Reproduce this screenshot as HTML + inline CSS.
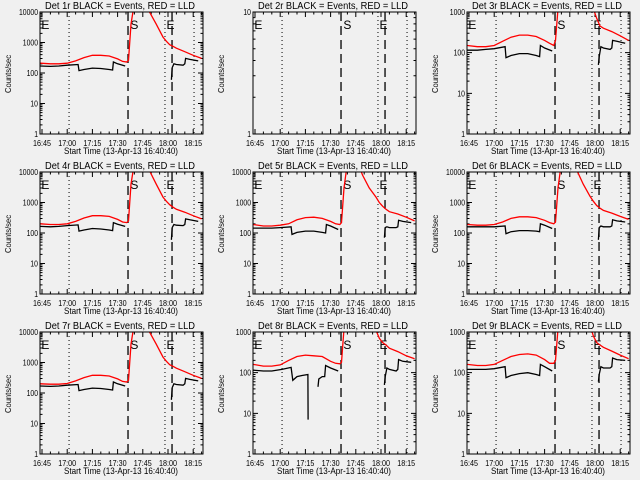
<!DOCTYPE html>
<html><head><meta charset="utf-8">
<style>
html,body{margin:0;padding:0;background:#f0f0f0;}
svg{display:block;font-family:"Liberation Sans",sans-serif;}
</style></head>
<body>
<svg id="chart" width="640" height="480" viewBox="0 0 640 480" xmlns="http://www.w3.org/2000/svg">
<rect x="0" y="0" width="640" height="480" fill="#f0f0f0"/>
</svg>
<script>
// shared time samples (minutes after 16:45)
const xTickLabels = ["16:45","17:00","17:15","17:30","17:45","18:00","18:15"];
const xTickMinutes = [0,15,30,45,60,75,90];
const dottedMinutes = [16.1,73.2,90.5];
const dashedMinutes = [51.2,77.4];
const redTimesA = [-1,5,10,15,20,25,30,35,40,45,48,50.5,51.5,53,55,58];
const redTimesB = [60,64,68,72,74,76,78,80,85,90,95];
const blackTimesA = [-1,5,10,15,21.5,22,25,30,35,40,42,42.5,45,49.5];
const blackTimesB = [77,77.5,78.5,80,84,85,85.5,88,93];
const blackTimesA8 = [-1,5,10,16,21.5,22.5,25,28,31.5,31.6,35,37.5,38,40,41.5,42,45,49.5];

// per-panel values
const titles = ["Det 1r","Det 2r","Det 3r","Det 4r","Det 5r","Det 6r","Det 7r","Det 8r","Det 9r"];
const decades = [4,1,3,4,4,4,4,3,3];
const red1A=[210,200,200,210,250,320,380,380,360,290,240,230,260,4000,20000,60000];
const red1B=[40000,10000,4000,1500,1100,850,750,650,500,380,300];
const black1A=[170,165,170,180,190,120,130,145,140,130,125,230,200,170];
const black1B=[60,150,200,190,180,200,300,280,250];
const red3A=[150,140,140,150,190,240,270,270,250,200,170,150,200,1200,5000,9000];
const red3B=[1e5,1e5,1e5,1e5,1200,700,450,400,330,260,200];
const black3A=[115,115,120,125,140,75,85,95,95,85,80,150,130,110];
const black3B=[50,80,140,130,120,130,200,190,170];
const red4A=[200,190,190,200,240,310,370,370,350,280,230,220,250,4000,20000,60000];
const red4B=[40000,11000,4000,1500,1100,850,700,600,480,370,290];
const black4A=[165,160,165,175,185,115,125,140,135,125,120,220,195,165];
const black4B=[60,150,190,180,175,190,290,270,240];
const red5A=[190,170,170,180,200,270,320,330,300,240,200,190,220,3000,20000,60000];
const red5B=[30000,8000,3000,1500,1000,750,600,500,420,330,250];
const black5A=[145,145,145,150,160,90,105,115,115,105,100,190,170,130];
const black5B=[70,150,160,150,150,160,260,240,220];
const red6A=[190,180,180,190,230,300,340,340,320,260,220,200,230,3000,20000,60000];
const red6B=[40000,12000,4000,1600,1100,800,650,550,450,350,280];
const black6A=[160,160,160,160,170,95,110,120,120,115,110,200,180,140];
const black6B=[60,150,170,160,160,170,270,250,230];
const red7A=[200,195,195,205,250,320,380,380,360,290,240,230,260,4000,20000,60000];
const red7B=[40000,10000,4000,1500,1100,850,750,650,500,380,300];
const black7A=[170,165,170,180,190,120,130,145,140,130,125,230,200,170];
const black7B=[60,150,200,190,180,200,300,280,250];
const red8A=[160,145,145,155,200,250,270,260,250,190,170,165,180,1200,5000,9000];
const red8B=[1e5,1e5,1e5,1100,700,550,480,400,330,260,220];
const black8A=[115,110,110,120,135,65,80,85,90,7,null,45,70,80,80,150,130,110];
const black8B=[50,80,130,120,110,120,210,190,180];
const red9A=[160,150,150,160,200,250,280,290,270,210,170,170,200,1200,5000,9000];
const red9B=[1e5,1e5,1e5,1500,800,550,480,420,340,270,220];
const black9A=[120,120,120,125,140,75,85,95,100,90,85,160,140,110];
const black9B=[60,90,140,130,130,140,230,210,200];

const panels = [
 {redA:red1A,redB:red1B,blackA:black1A,blackB:black1B,bTA:blackTimesA},
 null,
 {redA:red3A,redB:red3B,blackA:black3A,blackB:black3B,bTA:blackTimesA},
 {redA:red4A,redB:red4B,blackA:black4A,blackB:black4B,bTA:blackTimesA},
 {redA:red5A,redB:red5B,blackA:black5A,blackB:black5B,bTA:blackTimesA},
 {redA:red6A,redB:red6B,blackA:black6A,blackB:black6B,bTA:blackTimesA},
 {redA:red7A,redB:red7B,blackA:black7A,blackB:black7B,bTA:blackTimesA},
 {redA:red8A,redB:red8B,blackA:black8A,blackB:black8B,bTA:blackTimesA8},
 {redA:red9A,redB:red9B,blackA:black9A,blackB:black9B,bTA:blackTimesA}
];

const svg = document.getElementById('chart');
const NS = "http://www.w3.org/2000/svg";
function mk(tag, attrs, parent){
  const e=document.createElementNS(NS,tag);
  for(const k in attrs) e.setAttribute(k,attrs[k]);
  parent.appendChild(e); return e;
}
const L=40,R=203,T=12,B=134;
function xs(m){return 42+m*1.68;}

for(let i=0;i<9;i++){
  const col=i%3,row=Math.floor(i/3);
  const ox=col*213+(col==2?1:0), oy=row*160;
  const g=mk('g',{transform:`translate(${ox},${oy})`},svg);
  
  
  const nd=decades[i];
  const ys=v=>B-Math.log10(v)*(B-T)/nd;
  const tt=mk('text',{x:45,y:9,'font-size':10,textLength:150,lengthAdjust:'spacingAndGlyphs',fill:'#000'},g);
  tt.textContent=titles[i]+" BLACK = Events, RED = LLD";
  
  
  const yl=mk('text',{x:-19,y:0,'font-size':8.5,textLength:38,lengthAdjust:'spacingAndGlyphs',transform:`translate(11,74) rotate(-90)`},g);
  yl.textContent="Counts/sec";
  
  
  const xl=mk('text',{x:64,y:154,'font-size':9.5,textLength:114,lengthAdjust:'spacingAndGlyphs'},g);
  xl.textContent="Start Time (13-Apr-13 16:40:40)";
  
  
  let tk="";
  for(let d=0;d<=nd;d++){
    const y=ys(Math.pow(10,d));
    tk+=`M${L} ${y}h5M${R} ${y}h-5`;
    const s=String(Math.pow(10,d));
    const w=s.length*3.8;
    const lb=mk('text',{x:L-2-w,y:y+3,'font-size':8.5,textLength:w,lengthAdjust:'spacingAndGlyphs'},g);
    lb.textContent=s;
    
    
    if(d<nd) for(let k=2;k<10;k++){const yy=ys(k*Math.pow(10,d));tk+=`M${L} ${yy}h2.5M${R} ${yy}h-2.5`;}
  }
  xTickMinutes.forEach((m,j)=>{
    const x=xs(m);
    tk+=`M${x} ${B}v-5M${x} ${T}v5`;
    const lb=mk('text',{x:x-9,y:146,'font-size':8.5,textLength:18,lengthAdjust:'spacingAndGlyphs'},g);
    lb.textContent=xTickLabels[j];
    
    
  });
  for(let m=-0;m<=96;m+=5){if(m%15){const x=xs(m);tk+=`M${x} ${B}v-2.5M${x} ${T}v2.5`;}}
  const tp=mk('path',{d:tk,stroke:'#000','stroke-width':1,fill:'none'},g);
  
  
  dottedMinutes.forEach(m=>{const l=mk('line',{x1:xs(m),x2:xs(m),y1:T,y2:B,stroke:'#000','stroke-dasharray':'1 3'},g);
    });
  dashedMinutes.forEach(m=>{const l=mk('line',{x1:xs(m),x2:xs(m),y1:T,y2:B,stroke:'#000','stroke-width':1.3,'stroke-dasharray':'9 5'},g);
    });
  [["E",-1],["S",52],["E",73.5]].forEach(a=>{const t=mk('text',{x:xs(a[1])+1,y:29,'font-size':12},g);t.textContent=a[0];
    });
  const cp=mk('clipPath',{id:'c'+i},g);mk('rect',{x:L,y:T,width:R-L,height:B-T},cp);
  const p=panels[i];
  if(p){
    const line=(ts,vs,color,name)=>{
      let d="",pen=false;
      ts.forEach((t,j)=>{const v=vs[j];if(v==null){pen=false;return;}
        d+=(pen?"L":"M")+xs(t).toFixed(1)+" "+ys(v).toFixed(1);pen=true;});
      const e=mk('path',{d:d,stroke:color,'stroke-width':1.3,fill:'none','clip-path':`url(#c${i})`},g);
      
      
    };
    line(p.bTA,p.blackA,'#000','events-series-a');
    line(blackTimesB,p.blackB,'#000','events-series-b');
    line(redTimesA,p.redA,'#f00','lld-series-a');
    line(redTimesB,p.redB,'#f00','lld-series-b');
  }
  const fr=mk('rect',{x:L,y:T,width:R-L,height:B-T,fill:'none',stroke:'#000','stroke-width':1},g);
  
  
}
</script>
</body></html>
